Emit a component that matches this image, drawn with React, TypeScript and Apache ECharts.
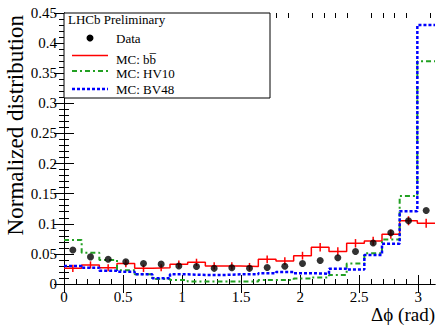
import React, { useEffect, useRef } from "react";
import * as echarts from "echarts";

const NBINS = 21;
const X_MAX = Math.PI;

// Bin contents, 21 bins over [0, pi]
const dataVals = [0.0565, 0.045, 0.041, 0.037, 0.034, 0.033, 0.030, 0.029, 0.026, 0.027, 0.026, 0.0275, 0.0295, 0.034, 0.039, 0.0435, 0.054, 0.068, 0.085, 0.105, 0.122];
const bbVals = [0.026, 0.0316, 0.027, 0.034, 0.026, 0.027, 0.033, 0.036, 0.030, 0.030, 0.029, 0.041, 0.038, 0.047, 0.061, 0.054, 0.0676, 0.0714, 0.0825, 0.105, 0.101];
const bbErr = [0.006, 0.006, 0.006, 0.006, 0.006, 0.006, 0.006, 0.006, 0.006, 0.006, 0.006, 0.0065, 0.0065, 0.0065, 0.007, 0.007, 0.007, 0.007, 0.0075, 0.0075, 0.0075];
const hv10Vals = [0.073, 0.052, 0.040, 0.023, 0.016, 0.0085, 0.0066, 0.004, 0.004, 0.004, 0.004, 0.0066, 0.0066, 0.009, 0.011, 0.015, 0.034, 0.051, 0.074, 0.146, 0.370];
const bv48Vals = [0.030, 0.027, 0.022, 0.0205, 0.016, 0.0094, 0.016, 0.015, 0.015, 0.016, 0.016, 0.018, 0.020, 0.018, 0.017, 0.0255, 0.024, 0.048, 0.067, 0.121, 0.430];

const xMajorTicks = [0, 0.5, 1, 1.5, 2, 2.5, 3];
const xMinorTicks = [0.1, 0.2, 0.3, 0.4, 0.6, 0.7, 0.8, 0.9, 1.1, 1.2, 1.3, 1.4, 1.6, 1.7, 1.8, 1.9, 2.1, 2.2, 2.3, 2.4, 2.6, 2.7, 2.8, 2.9, 3.1];

const FONT = "'Liberation Serif', 'DejaVu Serif', serif";
const binW = X_MAX / NBINS;

const stepData = (vals: number[]) => {
  const pts = vals.map((v, i) => [i * binW, v]);
  pts.push([X_MAX, vals[vals.length - 1]]);
  return pts;
};
const centerData = (vals: number[]) => vals.map((v, i) => [(i + 0.5) * binW, v]);

const majorXAxis = (position: "bottom" | "top", labels: boolean) => ({
  type: "value",
  position,
  min: 0,
  max: X_MAX,
  axisLine: { show: true, lineStyle: { color: "#000", width: 1 } },
  axisTick: { show: true, inside: true, length: 9, customValues: xMajorTicks, lineStyle: { color: "#000", width: 1 } },
  axisLabel: labels
    ? { show: true, customValues: xMajorTicks, fontFamily: FONT, fontSize: 15, color: "#000", margin: 5 }
    : { show: false },
  splitLine: { show: false },
});
const minorXAxis = (position: "bottom" | "top") => ({
  type: "value",
  position,
  min: 0,
  max: X_MAX,
  axisLine: { show: false },
  axisTick: { show: true, inside: true, length: 5, customValues: xMinorTicks, lineStyle: { color: "#000", width: 1 } },
  axisLabel: { show: false },
  splitLine: { show: false },
});
const yAxisDef = (position: "left" | "right", labels: boolean) => ({
  type: "value",
  position,
  min: 0,
  max: 0.45,
  interval: 0.05,
  axisLine: { show: true, lineStyle: { color: "#000", width: 1 } },
  axisTick: { show: true, inside: true, length: 10, lineStyle: { color: "#000", width: 1 } },
  minorTick: { show: true, splitNumber: 5, length: 5, lineStyle: { color: "#000", width: 1 } },
  axisLabel: labels
    ? { show: true, fontFamily: FONT, fontSize: 15, color: "#000", margin: 7 }
    : { show: false },
  splitLine: { show: false },
  minorSplitLine: { show: false },
});

export default function App() {
  const ref = useRef<HTMLDivElement>(null);
  useEffect(() => {
    if (!ref.current) return;
    const chart = echarts.init(ref.current, undefined, { renderer: "svg" });
    const legendTextStyle = (text: string, y: number) => ({
      type: "text",
      x: 116,
      y,
      z: 101,
      style: { text, font: `13px ${FONT}`, fill: "#000", align: "left", verticalAlign: "middle", textAlign: "left", textVerticalAlign: "middle" },
    });
    chart.setOption({
      animation: false,
      backgroundColor: "#fff",
      grid: { left: 64, right: 2, top: 13, bottom: 48, containLabel: false, outerBoundsMode: "none" },
      xAxis: [majorXAxis("bottom", true), majorXAxis("top", false), minorXAxis("bottom"), minorXAxis("top")],
      yAxis: [yAxisDef("left", true), yAxisDef("right", false)],
      series: [
        {
          name: "MC: bb",
          type: "line",
          step: "end",
          data: stepData(bbVals),
          symbol: "none",
          lineStyle: { color: "#ff0000", width: 1.5 },
          z: 2,
        },
        {
          name: "bbErr",
          type: "custom",
          data: bbVals.map((v, i) => [(i + 0.5) * binW, v, bbErr[i]]),
          renderItem: (params: any, api: any) => {
            const x = api.value(0);
            const v = api.value(1);
            const e = api.value(2);
            const p1 = api.coord([x, v - e]);
            const p2 = api.coord([x, v + e]);
            return {
              type: "line",
              shape: { x1: p1[0], y1: p1[1], x2: p2[0], y2: p2[1] },
              style: { stroke: "#ff0000", lineWidth: 1.5 },
            };
          },
          z: 2,
        },
        {
          name: "MC: HV10",
          type: "line",
          step: "end",
          data: stepData(hv10Vals),
          symbol: "none",
          lineStyle: { color: "#22a022", width: 2, type: [5, 3, 2, 3] },
          z: 3,
        },
        {
          name: "MC: BV48",
          type: "line",
          step: "end",
          data: stepData(bv48Vals),
          symbol: "none",
          lineStyle: { color: "#0000ff", width: 2.5, type: [3, 2] },
          z: 4,
        },
        {
          name: "Data",
          type: "scatter",
          data: centerData(dataVals),
          symbol: "circle",
          symbolSize: 7,
          itemStyle: { color: "#000" },
          z: 5,
        },
      ],
      graphic: [
        {
          type: "rect",
          z: 100,
          shape: { x: 64, y: 13, width: 206, height: 85 },
          style: { fill: "#fff", stroke: "#000", lineWidth: 1 },
        },
        {
          type: "text",
          x: 68,
          y: 19.5,
          z: 101,
          style: { text: "LHCb Preliminary", font: `13px ${FONT}`, fill: "#000", align: "left", verticalAlign: "middle", textAlign: "left", textVerticalAlign: "middle" },
        },
        { type: "circle", z: 101, shape: { cx: 90, cy: 38, r: 3.5 }, style: { fill: "#000" } },
        legendTextStyle("Data", 38),
        { type: "line", z: 101, shape: { x1: 72, y1: 55.5, x2: 108, y2: 55.5 }, style: { stroke: "#ff0000", lineWidth: 1.5 } },
        legendTextStyle("MC: b\u0062\u0305", 59.5),
        { type: "line", z: 101, shape: { x1: 72, y1: 71, x2: 108, y2: 71 }, style: { stroke: "#22a022", lineWidth: 2, lineDash: [5, 3, 2, 3] } },
        legendTextStyle("MC: HV10", 73.5),
        { type: "line", z: 101, shape: { x1: 72, y1: 89, x2: 108, y2: 89 }, style: { stroke: "#0000ff", lineWidth: 2.5, lineDash: [3, 2] } },
        legendTextStyle("MC: BV48", 89.5),
        {
          type: "text",
          x: 15,
          y: 15,
          rotation: Math.PI / 2,
          z: 101,
          style: { text: "Normalized distribution", font: `23px ${FONT}`, fill: "#000", align: "right", verticalAlign: "middle", textAlign: "right", textVerticalAlign: "middle" },
        },
        {
          type: "text",
          x: 435,
          y: 314,
          z: 101,
          style: { text: "\u0394\u03d5 (rad)", font: `19px ${FONT}`, fill: "#000", align: "right", verticalAlign: "middle", textAlign: "right", textVerticalAlign: "middle" },
        },
      ],
    });
    return () => chart.dispose();
  }, []);
  return <div ref={ref} style={{ position: "fixed", left: 0, top: 0, width: 437, height: 332 }} />;
}
